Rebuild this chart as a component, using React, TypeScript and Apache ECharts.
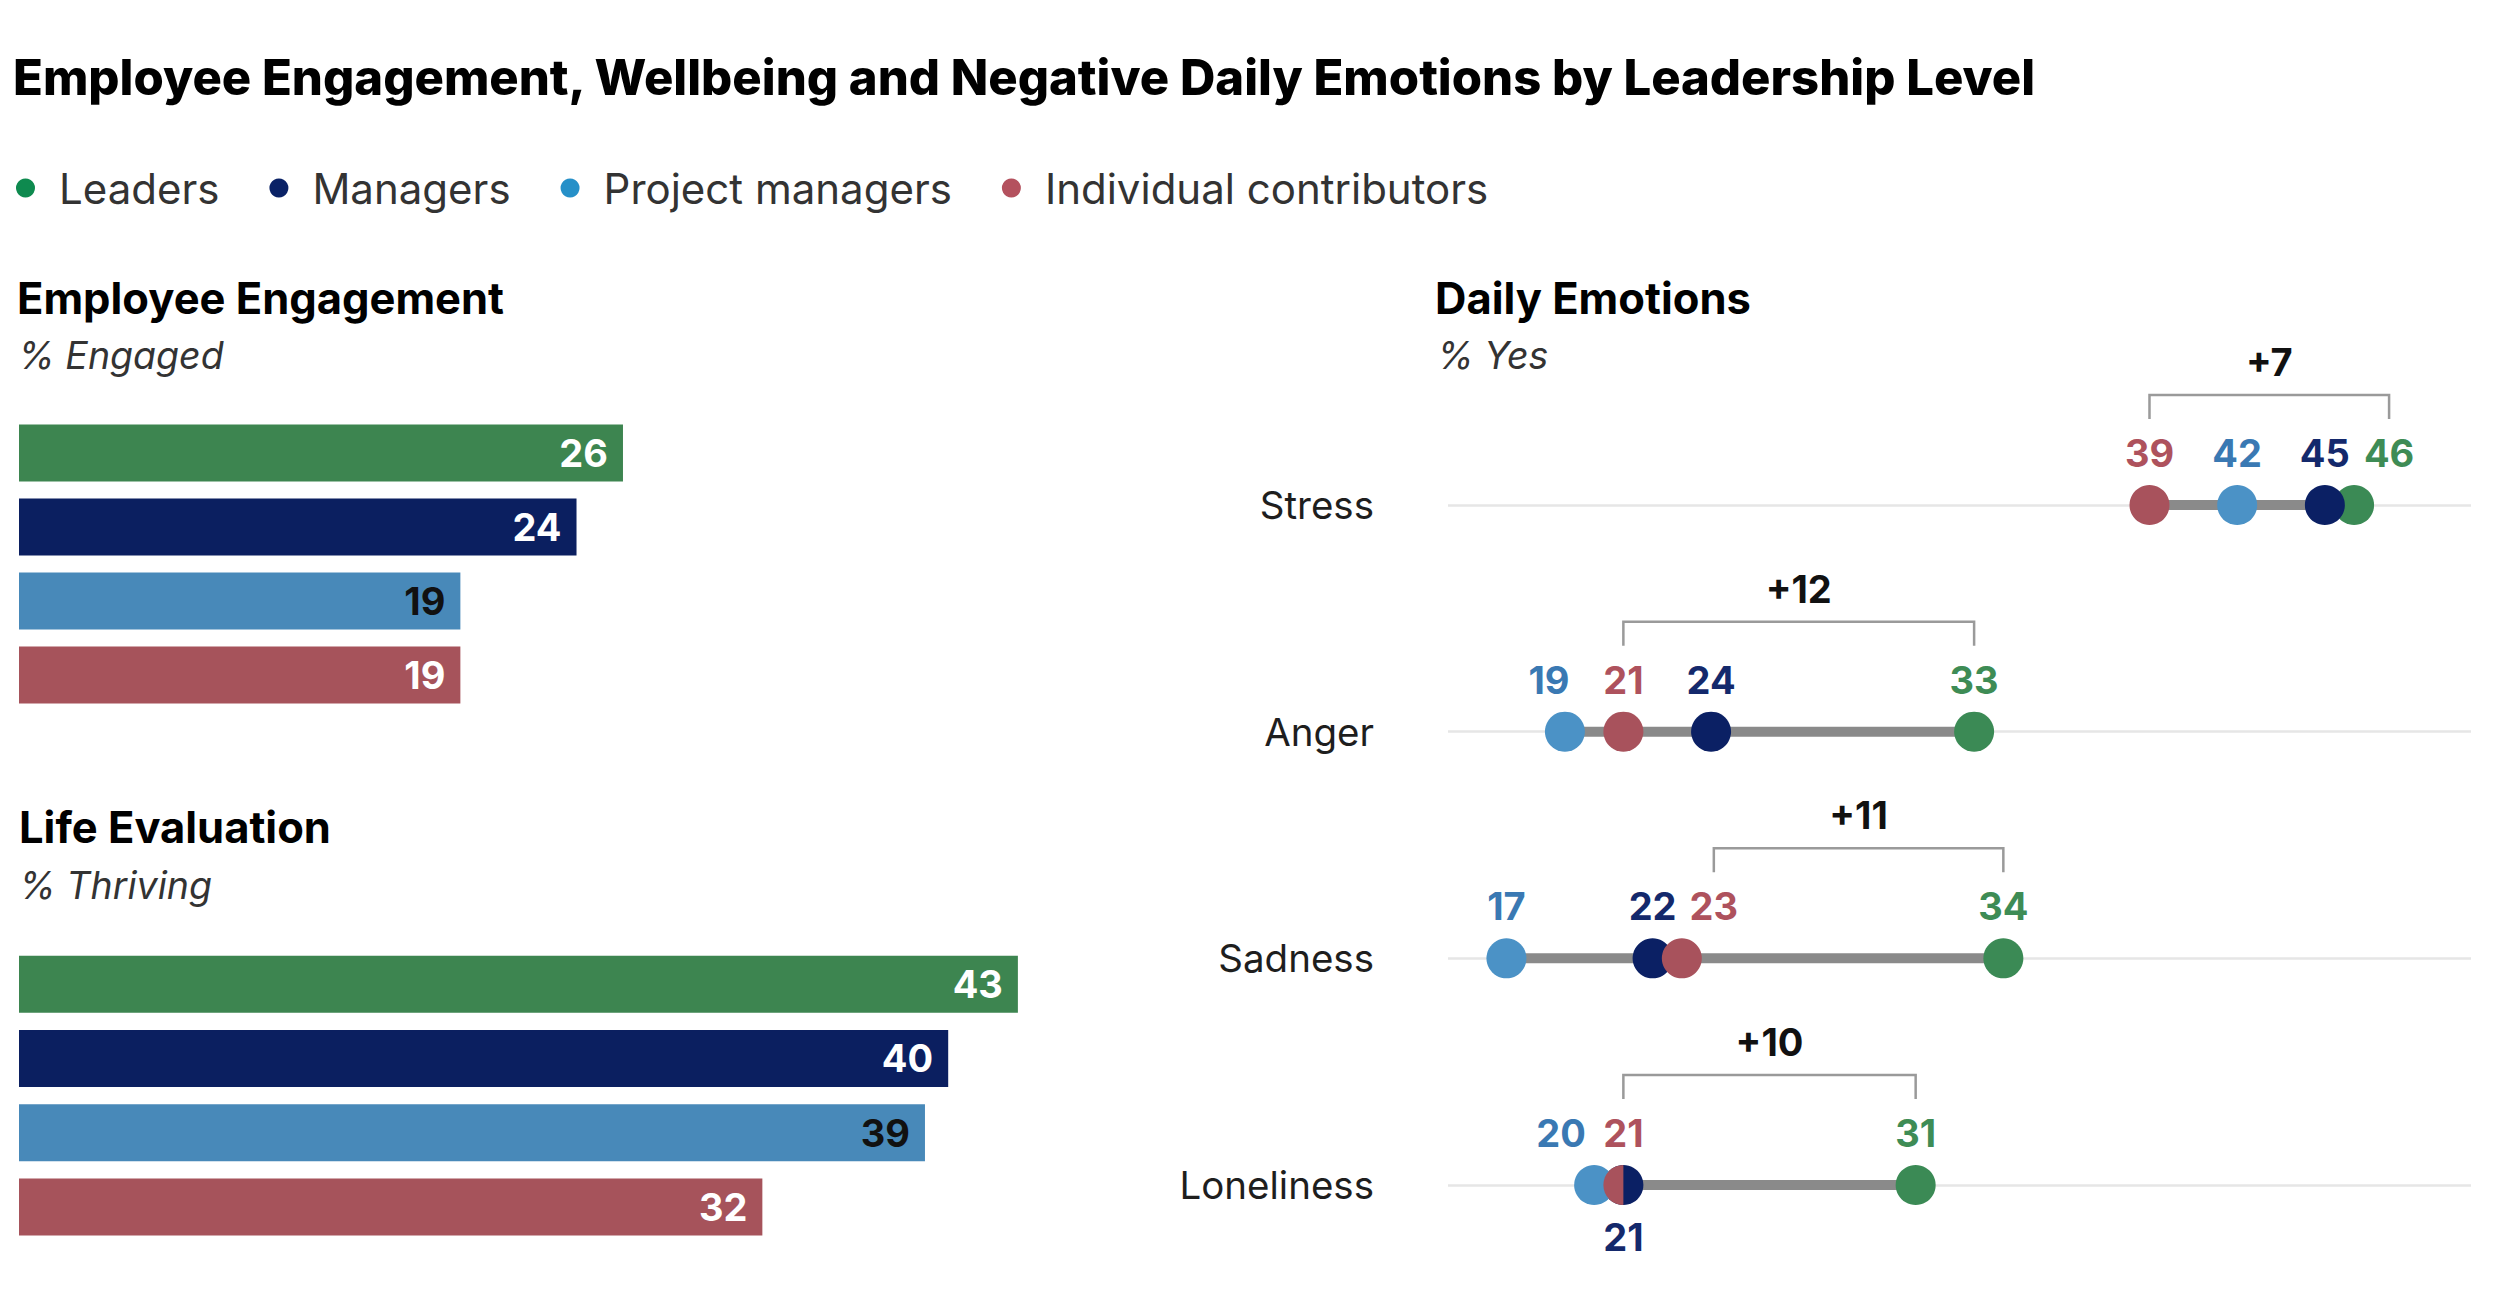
import React, { useEffect, useRef } from "react";
import * as echarts from "echarts";

// Groups shown in every panel
const groups = ["Leaders", "Managers", "Project managers", "Individual contributors"];

// Employee Engagement (% Engaged) and Life Evaluation (% Thriving), in group order
const engagedPct = [26, 24, 19, 19];
const thrivingPct = [43, 40, 39, 32];

// Daily Emotions (% Yes), one array per group
const emotions = ["Stress", "Anger", "Sadness", "Loneliness"];
const leadersYes = [46, 33, 34, 31];
const managersYes = [45, 24, 22, 21];
const projectYes = [42, 19, 17, 20];
const individualYes = [39, 21, 23, 21];

// Styling
const FONT = "Inter, 'Noto Sans', sans-serif";
const barColors = ["#3d8550", "#0b1f60", "#4889b9", "#a6535b"];
const barLabelColors = ["#ffffff", "#ffffff", "#111111", "#ffffff"];
const dotColors = ["#3b8a55", "#0b2064", "#4b92c6", "#a8525c"];
const valueColors = ["#3e8c55", "#14296c", "#3a79b3", "#ae525d"];
const legendColors = ["#0e8a4f", "#0a2266", "#2690c8", "#b4515e"];
// horizontal nudges (px) for value labels that would collide
const labelShift = [
  [35, 0, 0, 0],
  [0, 0, 0, 0],
  [0, -16, 0, -33],
  [0, 0, 32, 0],
];

const DOT = 40;

export default function App() {
  const ref = useRef<HTMLDivElement>(null);

  useEffect(() => {
    if (!ref.current) return;
    const chart = echarts.init(ref.current, undefined, { renderer: "svg" });

    const yesByGroup = [leadersYes, managersYes, projectYes, individualYes];

    const barSeries = (values: number[], idx: number) => ({
      type: "bar",
      name: idx === 0 ? "Employee Engagement" : "Life Evaluation",
      xAxisIndex: idx,
      yAxisIndex: idx,
      barWidth: 57,
      data: values.map((v, i) => ({
        value: v,
        itemStyle: { color: barColors[i] },
        label: { color: barLabelColors[i] },
      })),
      label: {
        show: true,
        position: "insideRight",
        distance: 15,
        fontFamily: FONT,
        fontSize: 38,
        fontWeight: "bold",
      },
      silent: true,
    });

    const rangeData = emotions.map((_, i) => {
      const vals = yesByGroup.map((g) => g[i]);
      return [Math.min(...vals), Math.max(...vals), i];
    });

    const bracketData = emotions.map((_, i) => [
      individualYes[i],
      leadersYes[i],
      i,
      leadersYes[i] - individualYes[i],
    ]);

    // left-half disc, used where two groups share a value
    const halfDisc = "path://M10 0 A10 10 0 0 0 10 20 Z";

    const dotSeries = [0, 2, 1, 3].map((g) => ({
      type: "scatter",
      name: groups[g],
      xAxisIndex: 2,
      yAxisIndex: 2,
      z: 5 + g,
      symbol: "circle",
      symbolSize: DOT,
      itemStyle: { color: dotColors[g], opacity: 1 },
      label: {
        show: true,
        position: "top",
        distance: 13,
        color: valueColors[g],
        fontFamily: FONT,
        fontSize: 38,
        fontWeight: "bold",
        formatter: (p: any) => String(p.value[0]),
      },
      data: yesByGroup[g].map((v, i) => {
        const shared = g === 3 && managersYes[i] === v;
        const belowLabel = g === 1 && individualYes[i] === v;
        const item: any = {
          value: [v, i],
          label: { offset: [labelShift[g][i] + (shared ? DOT / 4 : 0), 0] },
        };
        if (shared) {
          item.symbol = halfDisc;
          item.symbolSize = [DOT / 2, DOT];
          item.symbolOffset = [-DOT / 4, 0];
        }
        if (belowLabel) {
          item.label.position = "bottom";
        }
        return item;
      }),
      silent: true,
    }));

    const heading = (text: string, x: number, y: number) => ({
      type: "text",
      x,
      y,
      style: { text, fontFamily: FONT, fontSize: 43.5, fontWeight: 700, fill: "#000000", verticalAlign: "middle" },
    });
    const subheading = (text: string, x: number, y: number) => ({
      type: "text",
      x,
      y,
      style: { text, fontFamily: FONT, fontSize: 37.5, fontStyle: "italic", fill: "#333333", verticalAlign: "middle" },
    });

    const option: any = {
      animation: false,
      backgroundColor: "#ffffff",
      textStyle: { fontFamily: FONT },
      legend: {
        data: groups.map((name, i) => ({ name, itemStyle: { color: legendColors[i] } })),
        left: 11,
        top: 162,
        icon: "circle",
        itemWidth: 19,
        itemHeight: 19,
        itemGap: 50,
        selectedMode: false,
        textStyle: {
          fontFamily: FONT,
          fontSize: 42,
          color: "#333333",
          padding: [0, 0, 0, 19],
        },
      },
      grid: [
        { left: 19, width: 1161.5, top: 416, height: 296 },
        { left: 19, width: 1161.5, top: 947, height: 297 },
        { left: 1448, width: 1023, top: 505, height: 680 },
      ],
      xAxis: [
        { type: "value", gridIndex: 0, min: 0, max: 50, show: false },
        { type: "value", gridIndex: 1, min: 0, max: 50, show: false },
        { type: "value", gridIndex: 2, min: 15, max: 50, show: false },
      ],
      yAxis: [
        { type: "category", gridIndex: 0, data: groups, inverse: true, show: false },
        { type: "category", gridIndex: 1, data: groups, inverse: true, show: false },
        {
          type: "category",
          gridIndex: 2,
          data: emotions,
          inverse: true,
          boundaryGap: false,
          axisLine: { show: false },
          axisTick: { show: false },
          axisLabel: {
            margin: 74,
            fontFamily: FONT,
            fontSize: 38.5,
            color: "#1e1e1e",
          },
          splitLine: { show: true, lineStyle: { color: "#e6e6e6", width: 2.5 } },
        },
      ],
      graphic: [
        {
          type: "text",
          x: 13,
          y: 77,
          style: {
            text: "Employee Engagement, Wellbeing and Negative Daily Emotions by Leadership Level",
            fontFamily: FONT,
            fontSize: 49,
            fontWeight: 800,
            fill: "#000000",
            verticalAlign: "middle",
          },
        },
        heading("Employee Engagement", 17, 298),
        subheading("% Engaged", 18, 355),
        heading("Life Evaluation", 19, 827),
        subheading("% Thriving", 19, 885),
        heading("Daily Emotions", 1435, 298),
        subheading("% Yes", 1437, 355),
      ],
      series: [
        barSeries(engagedPct, 0),
        barSeries(thrivingPct, 1),
        {
          type: "custom",
          name: "range",
          xAxisIndex: 2,
          yAxisIndex: 2,
          z: 3,
          silent: true,
          encode: { x: [0, 1], y: 2 },
          data: rangeData,
          renderItem: (_params: any, api: any) => {
            const a = api.coord([api.value(0), api.value(2)]);
            const b = api.coord([api.value(1), api.value(2)]);
            return {
              type: "line",
              shape: { x1: a[0], y1: a[1], x2: b[0], y2: b[1] },
              style: { stroke: "#8a8a8a", lineWidth: 10 },
            };
          },
        },
        {
          type: "custom",
          name: "gap",
          xAxisIndex: 2,
          yAxisIndex: 2,
          z: 3,
          silent: true,
          encode: { x: [0, 1], y: 2 },
          data: bracketData,
          renderItem: (_params: any, api: any) => {
            const row = api.value(2);
            const a = api.coord([api.value(0), row]);
            const b = api.coord([api.value(1), row]);
            const x1 = a[0] + labelShift[3][row];
            const x2 = b[0] + labelShift[0][row];
            const yLine = a[1] - 110;
            const yTick = a[1] - 86;
            return {
              type: "group",
              children: [
                {
                  type: "polyline",
                  shape: { points: [[x1, yTick], [x1, yLine], [x2, yLine], [x2, yTick]] },
                  style: { stroke: "#9a9a9a", lineWidth: 2.5, fill: null },
                },
                {
                  type: "text",
                  x: (x1 + x2) / 2,
                  y: a[1] - 143,
                  style: {
                    text: "+" + api.value(3),
                    fontFamily: FONT,
                    fontSize: 38,
                    fontWeight: 700,
                    fill: "#111111",
                    align: "center",
                    verticalAlign: "middle",
                  },
                },
              ],
            };
          },
        },
        ...dotSeries,
      ],
    };

    chart.setOption(option);
    return () => chart.dispose();
  }, []);

  return (
    <div
      ref={ref}
      style={{ position: "absolute", left: 0, top: 0, width: 2500, height: 1312, background: "#fff" }}
    />
  );
}
